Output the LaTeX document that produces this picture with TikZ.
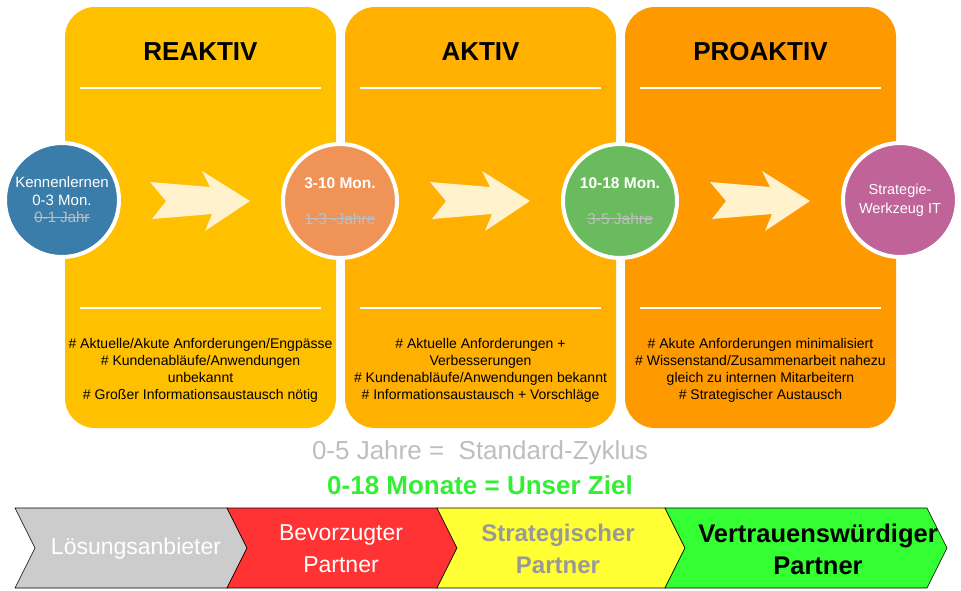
\documentclass[tikz,border=0pt]{standalone}
\usepackage{fontspec}
\setmainfont{Liberation Sans}
\usepackage{tikz}
\newcommand{\panelwidth}{271pt}
\newcommand{\panelheight}{421pt}
\newcommand{\phasesize}{114pt}
\definecolor{colReaktiv}{RGB}{255,192,0}
\definecolor{colAktiv}{RGB}{255,176,0}
\definecolor{colProaktiv}{RGB}{255,153,0}
\definecolor{colArrow}{RGB}{255,242,204}
\definecolor{colKennen}{RGB}{58,125,170}
\definecolor{colStart}{RGB}{239,148,86}
\definecolor{colMid}{RGB}{106,187,94}
\definecolor{colTool}{RGB}{191,99,153}
\definecolor{colOld}{RGB}{190,190,190}
\definecolor{colGoal}{RGB}{51,238,51}
\definecolor{chevGray}{RGB}{204,204,204}
\definecolor{chevRed}{RGB}{255,51,51}
\definecolor{chevYellow}{RGB}{255,255,51}
\definecolor{chevGreen}{RGB}{51,255,51}
\usetikzlibrary{calc,positioning}
\newcommand{\old}[1]{\textcolor{colOld}{\setbox0\hbox{#1}\rlap{\rule[0.32em]{\wd0}{0.9pt}}\box0}}
\tikzset{
  panel/.style={shape=rectangle,minimum width=\panelwidth,minimum height=\panelheight,rounded corners=30pt,inner sep=0},
  title/.style={font=\fontsize{26}{30}\selectfont\bfseries},
  sep/.style={draw=white,line width=1.5pt},
  phase/.style={draw=white,line width=4pt,shape=circle,minimum size=\phasesize,inner sep=0,align=center,text=white,font=\fontsize{15}{17.5}\selectfont},
  notes/.style={align=center,font=\fontsize{14}{17}\selectfont},
  chev/.style={draw=black,line width=0.6pt},
  partner/.style={align=center,font=\fontsize{23}{32}\selectfont},
}

\begin{document}
\begin{tikzpicture}[x=1pt,y=-1pt]
    \useasboundingbox (0,0) rectangle (961,590);

    % phase panels
    \node (reaktiv) [panel,fill=colReaktiv] at (200.5,217.5) {};
    \node (aktiv) [panel,fill=colAktiv] at (480.5,217.5) {};
    \node (proaktiv) [panel,fill=colProaktiv] at (760.5,217.5) {};

    \node (reaktivTitle) [title] at (200.5,52) {REAKTIV};
    \node (aktivTitle) [title] at (480.5,52) {AKTIV};
    \node (proaktivTitle) [title] at (760.5,52) {PROAKTIV};

    \foreach \p in {reaktiv,aktiv,proaktiv} {
      \path [sep] ($(\p.north west)+(15,81)$) -- ($(\p.north east)+(-15,81)$);
      \path [sep] ($(\p.north west)+(15,301)$) -- ($(\p.north east)+(-15,301)$);
    }

    % arrows between the circles
    \foreach \x in {150,430,710} {
      \path [fill=colArrow] (\x,182) -- (\x+60,187) -- (\x+52,171) -- (\x+100,201)
        -- (\x+55,231) -- (\x+62,214) -- (\x+2,219) -- (\x+16,201) -- cycle;
    }

    % milestones
    \node (kennen) [phase,fill=colKennen] at (62,200) {Kennenlernen\\0-3 Mon.\\\old{0-1 Jahr}};
    \node (start) [phase,fill=colStart,font=\fontsize{15.5}{18}\selectfont] at (340,201) {\textbf{3-10 Mon.}\\[18pt]\old{1-3 -Jahre}};
    \node (mid) [phase,fill=colMid,font=\fontsize{15.5}{18}\selectfont] at (620,201) {\textbf{10-18 Mon.}\\[18pt]\old{3-5 Jahre}};
    \node (tool) [phase,fill=colTool,font=\fontsize{14.5}{19}\selectfont] at (900,200) {Strategie-\\Werkzeug IT};

    \node (reaktivNotes) [notes] at (200.5,370) {\# Aktuelle/Akute Anforderungen/Engpässe\\\# Kundenabläufe/Anwendungen\\unbekannt\\\# Großer Informationsaustausch nötig};
    \node (aktivNotes) [notes] at (480.5,370) {\# Aktuelle Anforderungen +\\Verbesserungen\\\# Kundenabläufe/Anwendungen bekannt\\\# Informationsaustausch + Vorschläge};
    \node (proaktivNotes) [notes] at (760.5,370) {\# Akute Anforderungen minimalisiert\\\# Wissenstand/Zusammenarbeit nahezu\\gleich zu internen Mitarbeitern\\\# Strategischer Austausch};

    \node (cycle) [text=colOld,font=\fontsize{26}{30}\selectfont] at (480,453) {0-5 Jahre =\ \ Standard-Zyklus};
    \node (goal) [text=colGoal,font=\fontsize{26}{30}\selectfont\bfseries] at (480,485) {0-18 Monate = Unser Ziel};

    % partner levels
    \foreach \x/\w/\c in {15/212/chevGray,227/210/chevRed,437/228/chevYellow,665/262/chevGreen} {
      \path [chev,fill=\c] (\x,508) -- ++(\w,0) -- ++(20,40) -- ++(-20,40) -- ++(-\w,0) -- ++(20,-40) -- cycle;
    }
    \node (vendor) [partner,text=white] at (136,549) {Lösungsanbieter};
    \node (preferred) [partner,text=white] at (341,549) {Bevorzugter\\Partner};
    \node (strategic) [partner,text=black!40,font=\fontsize{24}{32}\selectfont\bfseries] at (558,549) {Strategischer\\Partner};
    \node (trusted) [partner,font=\fontsize{25.5}{32}\selectfont\bfseries] at (818,549) {Vertrauenswürdiger\\Partner};
\end{tikzpicture}
\end{document}
